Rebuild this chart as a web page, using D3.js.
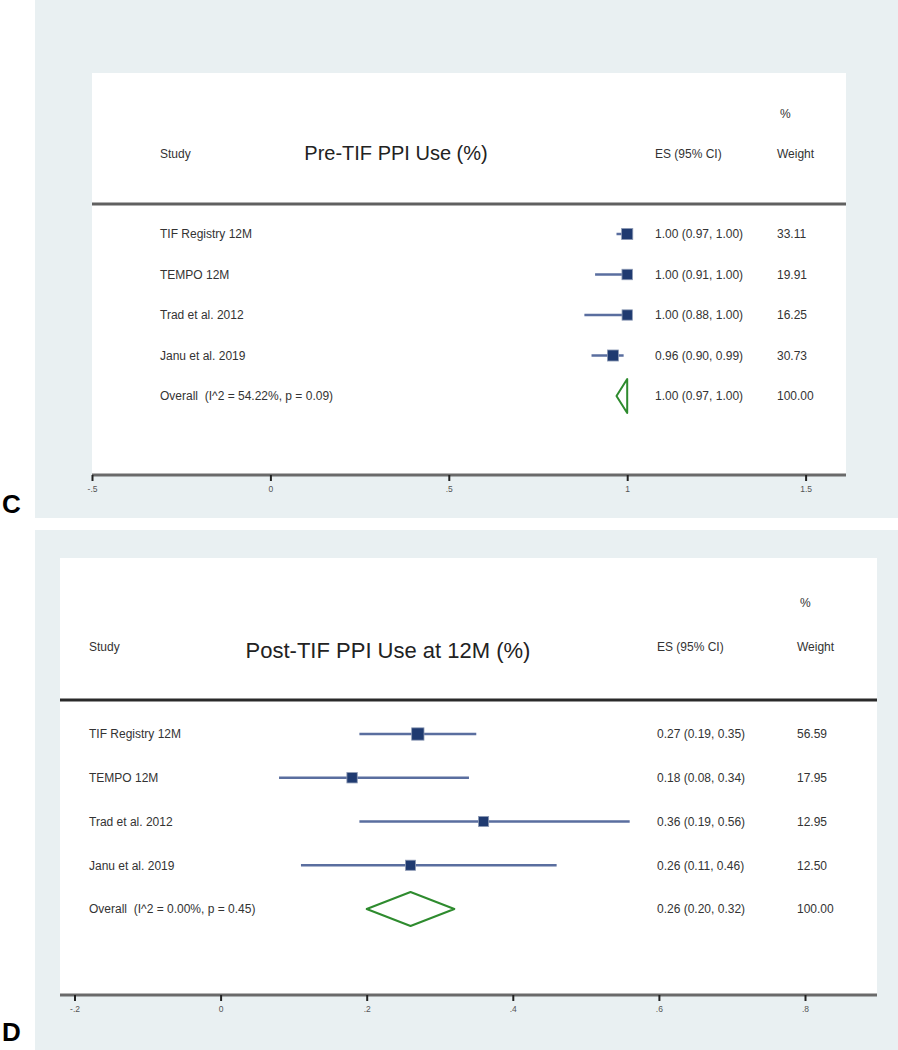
<!DOCTYPE html>
<html>
<head>
<meta charset="utf-8">
<script src="https://cdn.jsdelivr.net/npm/d3@7/dist/d3.min.js"></script>
<style>
  html, body { margin: 0; padding: 0; background: #ffffff; }
  svg { display: block; font-family: Arial, "Liberation Sans", sans-serif; }
</style>
</head>
<body>
<svg id="chart" width="898" height="1050"></svg>
<script>
// ---------------- DATA ----------------
const studies = ["TIF Registry 12M", "TEMPO 12M", "Trad et al. 2012", "Janu et al. 2019"];

// Panel C: Pre-TIF PPI Use (%)
const preTitle = "Pre-TIF PPI Use (%)";
const preES = [1.00, 1.00, 1.00, 0.96];
const preLo = [0.97, 0.91, 0.88, 0.90];
const preHi = [1.00, 1.00, 1.00, 0.99];
const preWeight = [33.11, 19.91, 16.25, 30.73];
const preOverall = [1.00, 0.97, 1.00];          // es, lo, hi
const preHet = "Overall  (I^2 = 54.22%, p = 0.09)";
const preTicks = [-0.5, 0, 0.5, 1, 1.5];
const preTickLabels = ["-.5", "0", ".5", "1", "1.5"];

// Panel D: Post-TIF PPI Use at 12M (%)
const postTitle = "Post-TIF PPI Use at 12M (%)";
const postES = [0.27, 0.18, 0.36, 0.26];
const postLo = [0.19, 0.08, 0.19, 0.11];
const postHi = [0.35, 0.34, 0.56, 0.46];
const postWeight = [56.59, 17.95, 12.95, 12.50];
const postOverall = [0.26, 0.20, 0.32];
const postHet = "Overall  (I^2 = 0.00%, p = 0.45)";
const postTicks = [-0.2, 0, 0.2, 0.4, 0.6, 0.8];
const postTickLabels = ["-.2", "0", ".2", ".4", ".6", ".8"];

// ---------------- DRAWING ----------------
const svg = d3.select("#chart");
const BG = "#e9f0f2";
const TXT = "#333333";

function fmt(v) { return d3.format(".2f")(v); }

function drawPanel(cfg, d) {
  const g = svg.append("g");
  g.append("rect").attr("x", cfg.bg[0]).attr("y", cfg.bg[1])
    .attr("width", cfg.bg[2]).attr("height", cfg.bg[3]).attr("fill", BG);
  g.append("rect").attr("x", cfg.wx0).attr("y", cfg.wy0)
    .attr("width", cfg.wx1 - cfg.wx0).attr("height", cfg.axisY - cfg.wy0).attr("fill", "#ffffff");
  g.append("text").attr("x", 2).attr("y", cfg.letterY)
    .attr("font-size", 26).attr("font-weight", "bold").attr("fill", "#000").text(cfg.letter);

  const x = d3.scaleLinear().domain(cfg.xdom).range(cfg.xrange);
  const rows = [...studies, "Overall"];
  const y = d3.scalePoint().domain(rows).range(cfg.yrange);
  const sz = d3.scaleLinear().domain([10, 60]).range([10, 12.5]);

  const hy = cfg.headY;
  g.append("text").attr("x", cfg.labelX).attr("y", hy).attr("font-size", 12).attr("fill", TXT).text("Study");
  g.append("text").attr("x", cfg.titleX).attr("y", cfg.titleY).attr("text-anchor", "middle")
    .attr("font-size", cfg.titleSize).attr("fill", "#222").text(d.title);
  g.append("text").attr("x", cfg.esX).attr("y", hy).attr("font-size", 12).attr("fill", TXT).text("ES (95% CI)");
  g.append("text").attr("x", cfg.wX + 3).attr("y", cfg.pctY).attr("font-size", 12).attr("fill", TXT).text("%");
  g.append("text").attr("x", cfg.wX).attr("y", hy).attr("font-size", 12).attr("fill", TXT).text("Weight");

  g.append("line").attr("x1", cfg.wx0).attr("x2", cfg.wx1).attr("y1", cfg.ruleY).attr("y2", cfg.ruleY)
    .attr("stroke", cfg.ruleColor).attr("stroke-width", 3);

  const data = studies.map((s, i) => ({ s, es: d.es[i], lo: d.lo[i], hi: d.hi[i], w: d.w[i] }));
  const row = g.selectAll("g.row").data(data).join("g").attr("class", "row");
  row.append("text").attr("x", cfg.labelX).attr("y", r => y(r.s)).attr("dy", "0.36em")
    .attr("font-size", 12).attr("fill", TXT).text(r => r.s);
  row.append("line").attr("x1", r => x(r.lo)).attr("x2", r => x(r.hi))
    .attr("y1", r => y(r.s)).attr("y2", r => y(r.s))
    .attr("stroke", "#5a6e9f").attr("stroke-width", 2.5);
  row.append("rect")
    .attr("x", r => x(r.es) - sz(r.w) / 2).attr("y", r => y(r.s) - sz(r.w) / 2)
    .attr("width", r => sz(r.w)).attr("height", r => sz(r.w))
    .attr("fill", "#1f3a70").attr("stroke", "#8e9bb5").attr("stroke-width", 0.8);
  row.append("text").attr("x", cfg.esX).attr("y", r => y(r.s)).attr("dy", "0.36em")
    .attr("font-size", 12).attr("fill", TXT)
    .text(r => `${fmt(r.es)} (${fmt(r.lo)}, ${fmt(r.hi)})`);
  row.append("text").attr("x", cfg.wX).attr("y", r => y(r.s)).attr("dy", "0.36em")
    .attr("font-size", 12).attr("fill", TXT).text(r => fmt(r.w));

  const oy = y("Overall");
  const [oes, olo, ohi] = d.overall;
  g.append("text").attr("x", cfg.labelX).attr("y", oy).attr("dy", "0.36em")
    .attr("font-size", 12).attr("fill", TXT).style("white-space", "pre").text(d.het);
  const dh = 17;
  g.append("path")
    .attr("d", `M${x(olo)},${oy} L${x(oes)},${oy - dh} L${x(ohi)},${oy} L${x(oes)},${oy + dh} Z`)
    .attr("fill", "none").attr("stroke", "#2e8b2e").attr("stroke-width", 2).attr("stroke-linejoin", "round");
  g.append("text").attr("x", cfg.esX).attr("y", oy).attr("dy", "0.36em")
    .attr("font-size", 12).attr("fill", TXT).text(`${fmt(oes)} (${fmt(olo)}, ${fmt(ohi)})`);
  g.append("text").attr("x", cfg.wX).attr("y", oy).attr("dy", "0.36em")
    .attr("font-size", 12).attr("fill", TXT).text("100.00");

  g.append("line").attr("x1", cfg.wx0).attr("x2", cfg.wx1).attr("y1", cfg.axisY).attr("y2", cfg.axisY)
    .attr("stroke", "#6a6a6a").attr("stroke-width", 3);
  const ax = g.append("g").attr("transform", `translate(0,${cfg.axisY})`)
    .call(d3.axisBottom(x).tickValues(d.ticks).tickFormat((v, i) => d.tickLabels[i]).tickSize(6).tickPadding(5));
  ax.select(".domain").remove();
  ax.selectAll(".tick line").attr("stroke", "#222").attr("stroke-width", 2);
  ax.selectAll(".tick text").attr("font-size", 8.5).attr("fill", "#555").attr("font-family", "Arial, 'Liberation Sans', sans-serif");
}

drawPanel({
  letter: "C", letterY: 513, bg: [35, 0, 863, 518],
  wx0: 92, wx1: 846, wy0: 73, axisY: 475,
  xdom: [-0.5, 1.5], xrange: [92, 805.6],
  yrange: [234, 396],
  labelX: 160, esX: 655, wX: 777,
  headY: 158, pctY: 118, titleX: 396, titleY: 160, titleSize: 20,
  ruleY: 204, ruleColor: "#606060"
}, { title: preTitle, es: preES, lo: preLo, hi: preHi, w: preWeight, overall: preOverall, het: preHet,
     ticks: preTicks, tickLabels: preTickLabels });

drawPanel({
  letter: "D", letterY: 1041, bg: [35, 530, 863, 520],
  wx0: 60, wx1: 877, wy0: 558, axisY: 995,
  xdom: [-0.2, 0.8], xrange: [74.5, 805],
  yrange: [734, 909],
  labelX: 89, esX: 657, wX: 797,
  headY: 651, pctY: 607, titleX: 388, titleY: 658, titleSize: 22,
  ruleY: 700, ruleColor: "#2a2a2a"
}, { title: postTitle, es: postES, lo: postLo, hi: postHi, w: postWeight, overall: postOverall, het: postHet,
     ticks: postTicks, tickLabels: postTickLabels });
</script>
</body>
</html>
